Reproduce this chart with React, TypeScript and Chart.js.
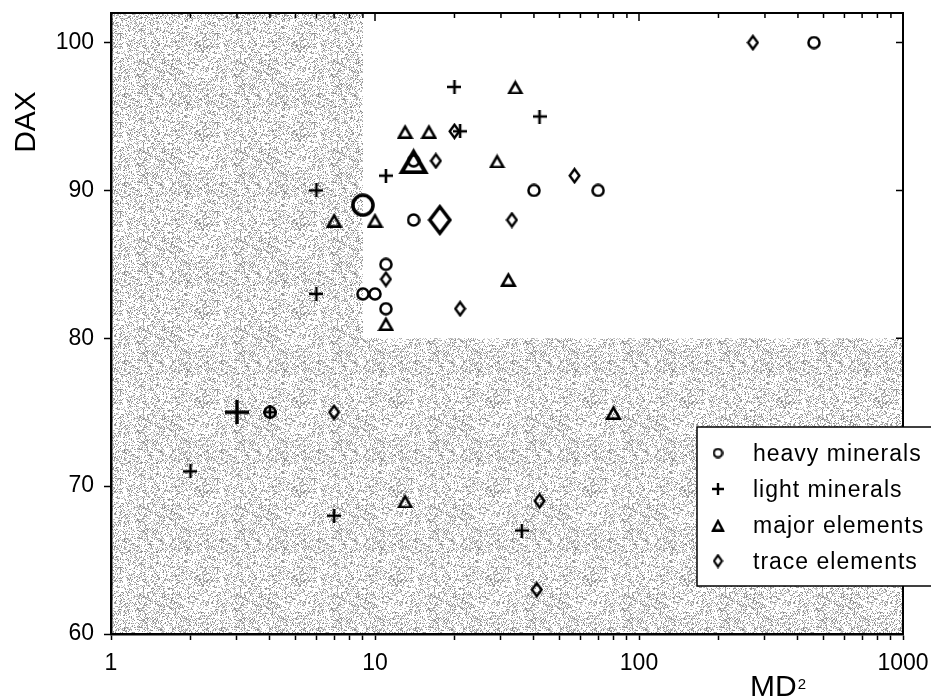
import React, { useEffect, useRef } from 'react';
import { Chart, registerables } from 'chart.js';

Chart.register(...registerables);

// ---------- data ----------
const SERIES_NAMES = ['heavy minerals', 'light minerals', 'major elements', 'trace elements'];

const heavyX = [460, 14, 40, 70, 14, 11, 9, 10, 11, 4];
const heavyY = [100, 92, 90, 90, 88, 85, 83, 83, 82, 75];
const heavyCentroid = [9, 89];

const lightX = [20, 42, 21, 11, 6, 6, 4, 2, 7, 36];
const lightY = [97, 95, 94, 91, 90, 83, 75, 71, 68, 67];
const lightCentroid = [3, 75];

const majorX = [34, 13, 16, 29, 7, 10, 32, 11, 80, 13];
const majorY = [97, 94, 94, 92, 88, 88, 84, 81, 75, 69];
const majorCentroid = [14, 92];

const traceX = [270, 20, 17, 57, 33, 11, 21, 7, 42, 41];
const traceY = [100, 94, 92, 91, 88, 84, 82, 75, 69, 63];
const traceCentroid = [17.6, 88];

const X_MIN = 1;
const X_MAX = 1000;
const Y_MIN = 60;
const Y_MAX = 102;
const X_LABELS = [1, 10, 100, 1000];
const Y_TICKS = [60, 70, 80, 90, 100];
const CLEAR_X_FROM = 9;
const CLEAR_Y_FROM = 80;

const FONT = '"Liberation Sans", Arial, Helvetica, sans-serif';

// ---------- marker drawing ----------
type Shape = 'circle' | 'plus' | 'triangle' | 'diamond';

function makeMarker(shape: Shape, w: number, h: number, lw: number): HTMLCanvasElement {
  const c = document.createElement('canvas');
  c.width = w;
  c.height = h;
  const g = c.getContext('2d')!;
  g.strokeStyle = '#000';
  g.lineWidth = lw;
  g.lineJoin = 'miter';
  const cx = w / 2;
  const cy = h / 2;
  g.beginPath();
  if (shape === 'circle') {
    g.arc(cx, cy, (Math.min(w, h) - lw) / 2 - 0.2, 0, Math.PI * 2);
  } else if (shape === 'plus') {
    g.moveTo(cx, 0);
    g.lineTo(cx, h);
    g.moveTo(0, cy);
    g.lineTo(w, cy);
  } else if (shape === 'triangle') {
    g.moveTo(cx, lw * 1.1);
    g.lineTo(w - lw * 0.9, h - lw / 2);
    g.lineTo(lw * 0.9, h - lw / 2);
    g.closePath();
  } else {
    g.moveTo(cx, lw * 0.8);
    g.lineTo(w - lw * 0.7, cy);
    g.lineTo(cx, h - lw * 0.8);
    g.lineTo(lw * 0.7, cy);
    g.closePath();
  }
  g.stroke();
  return c;
}

function makeStipple(): HTMLCanvasElement {
  const W = 97;
  const H = 89;
  const c = document.createElement('canvas');
  c.width = W;
  c.height = H;
  const g = c.getContext('2d')!;
  const img = g.createImageData(W, H);
  let s = 987654321;
  const next = () => {
    s = (Math.imul(s, 1103515245) + 12345) >>> 0;
    return (s >>> 8) / 16777216;
  };
  for (let i = 0; i < W * H; i++) {
    let v = 255;
    if (next() < 0.36) v = 130 + Math.floor(next() * 80);
    img.data[i * 4] = v;
    img.data[i * 4 + 1] = v;
    img.data[i * 4 + 2] = v;
    img.data[i * 4 + 3] = 255;
  }
  g.putImageData(img, 0, 0);
  return c;
}

export default function App() {
  const ref = useRef<HTMLCanvasElement | null>(null);

  useEffect(() => {
    if (!ref.current) return;

    const small = {
      circle: makeMarker('circle', 14, 14, 2.5),
      plus: makeMarker('plus', 14, 14, 2.6),
      triangle: makeMarker('triangle', 17, 15, 2.6),
      diamond: makeMarker('diamond', 13, 17, 2.4),
    };
    const big = {
      circle: makeMarker('circle', 24, 24, 3.5),
      plus: makeMarker('plus', 24, 24, 3.4),
      triangle: makeMarker('triangle', 31, 27, 4),
      diamond: makeMarker('diamond', 25, 32, 3.5),
    };
    const leg = {
      circle: makeMarker('circle', 11, 11, 2.2),
      plus: makeMarker('plus', 12, 12, 2.4),
      triangle: makeMarker('triangle', 14, 13, 2.4),
      diamond: makeMarker('diamond', 11, 15, 2.2),
    };
    const stipple = makeStipple();

    const pts = (xs: number[], ys: number[]) => xs.map((x, i) => ({ x, y: ys[i] }));
    const mk = (label: string, data: { x: number; y: number }[], style: HTMLCanvasElement) => ({
      label,
      data,
      pointStyle: style,
      pointRadius: 6,
      pointHoverRadius: 6,
      borderColor: '#000',
      backgroundColor: '#000',
      showLine: false,
    });

    const datasets = [
      mk(SERIES_NAMES[0], pts(heavyX, heavyY), small.circle),
      mk(SERIES_NAMES[1], pts(lightX, lightY), small.plus),
      mk(SERIES_NAMES[2], pts(majorX, majorY), small.triangle),
      mk(SERIES_NAMES[3], pts(traceX, traceY), small.diamond),
      mk(SERIES_NAMES[0] + ' centroid', [{ x: heavyCentroid[0], y: heavyCentroid[1] }], big.circle),
      mk(SERIES_NAMES[1] + ' centroid', [{ x: lightCentroid[0], y: lightCentroid[1] }], big.plus),
      mk(SERIES_NAMES[2] + ' centroid', [{ x: majorCentroid[0], y: majorCentroid[1] }], big.triangle),
      mk(SERIES_NAMES[3] + ' centroid', [{ x: traceCentroid[0], y: traceCentroid[1] }], big.diamond),
    ];

    const legendMarkers = [leg.circle, leg.plus, leg.triangle, leg.diamond];

    const decor = {
      id: 'decor',
      beforeDraw(chart: any) {
        const { ctx, chartArea: a, scales } = chart;
        const cx = scales.x.getPixelForValue(CLEAR_X_FROM);
        const cy = scales.y.getPixelForValue(CLEAR_Y_FROM);
        ctx.save();
        ctx.fillStyle = ctx.createPattern(stipple, 'repeat');
        ctx.beginPath();
        ctx.rect(a.left, a.top, a.right - a.left, a.bottom - a.top);
        ctx.rect(cx, a.top, a.right - cx, cy - a.top);
        ctx.fill('evenodd');
        ctx.restore();
      },
      afterDraw(chart: any) {
        const { ctx, chartArea: a, scales } = chart;
        ctx.save();
        // top & right frame
        ctx.strokeStyle = '#000';
        ctx.lineWidth = 2;
        ctx.beginPath();
        ctx.moveTo(a.left, a.top);
        ctx.lineTo(a.right, a.top);
        ctx.lineTo(a.right, a.bottom);
        ctx.stroke();
        // inward ticks on top
        ctx.lineWidth = 1.5;
        ctx.beginPath();
        for (const t of scales.x.ticks) {
          const px = scales.x.getPixelForValue(t.value);
          const major = X_LABELS.includes(t.value);
          ctx.moveTo(px, a.top);
          ctx.lineTo(px, a.top + (major ? 8 : 5));
        }
        // inward ticks on right
        for (const t of scales.y.ticks) {
          const py = scales.y.getPixelForValue(t.value);
          ctx.moveTo(a.right, py);
          ctx.lineTo(a.right - 7, py);
        }
        ctx.stroke();

        // axis titles
        ctx.fillStyle = '#000';
        ctx.font = `30px ${FONT}`;
        ctx.textBaseline = 'alphabetic';
        ctx.save();
        ctx.translate(a.left - 76, a.top + 109);
        ctx.rotate(-Math.PI / 2);
        ctx.textAlign = 'center';
        ctx.fillText('DAX', 0, 0);
        ctx.restore();
        ctx.textAlign = 'left';
        const mx = a.right - 153;
        const my = a.bottom + 62;
        ctx.fillText('MD', mx, my);
        const mdw = ctx.measureText('MD').width;
        ctx.font = `15px ${FONT}`;
        ctx.fillText('2', mx + mdw + 1, my - 7);

        // legend
        const lx = a.right - 206;
        const ly = a.top + 414;
        const lw = 240;
        const lh = 159;
        ctx.fillStyle = '#fff';
        ctx.fillRect(lx, ly, lw, lh);
        ctx.strokeStyle = '#000';
        ctx.lineWidth = 1.5;
        ctx.strokeRect(lx, ly, lw, lh);
        ctx.fillStyle = '#000';
        ctx.font = `23px ${FONT}`;
        try {
          (ctx as any).letterSpacing = '1px';
        } catch (e) {
          /* ignore */
        }
        SERIES_NAMES.forEach((name, i) => {
          const m = legendMarkers[i];
          const my2 = ly + 26 + 36 * i;
          ctx.drawImage(m, lx + 21 - m.width / 2, my2 - m.height / 2);
          ctx.fillText(name, lx + 56, ly + 34 + 36 * i);
        });
        ctx.restore();
      },
    };

    const chart = new Chart(ref.current, {
      type: 'scatter',
      data: { datasets: datasets as any },
      plugins: [decor as any],
      options: {
        responsive: false,
        animation: false,
        devicePixelRatio: 1,
        events: [],
        layout: { padding: { top: 13, right: 28, left: 0, bottom: 0 } },
        plugins: {
          legend: { display: false },
          tooltip: { enabled: false },
          title: { display: false },
        },
        scales: {
          x: {
            type: 'logarithmic',
            position: 'bottom',
            min: X_MIN,
            max: X_MAX,
            afterBuildTicks: (scale: any) => {
              const vals: number[] = [];
              for (let d = X_MIN; d < X_MAX; d *= 10) {
                for (let m = 1; m < 10; m++) vals.push(d * m);
              }
              vals.push(X_MAX);
              scale.ticks = vals.map((v) => ({ value: v }));
            },
            afterFit: (scale: any) => {
              scale.height = 66;
              scale.paddingLeft = 0;
              scale.paddingRight = 0;
              scale.paddingTop = 0;
              scale.paddingBottom = 0;
            },
            border: { display: true, color: '#000', width: 2.5 },
            grid: {
              display: true,
              drawOnChartArea: false,
              drawTicks: true,
              tickLength: 6,
              tickColor: '#000',
              tickWidth: 1.5,
            },
            ticks: {
              autoSkip: false,
              maxRotation: 0,
              minRotation: 0,
              padding: 10,
              color: '#000',
              font: { family: FONT, size: 23 },
              callback: (v: any) => (X_LABELS.includes(Number(v)) ? String(v) : ''),
            },
          },
          y: {
            type: 'linear',
            position: 'left',
            min: Y_MIN,
            max: Y_MAX,
            afterBuildTicks: (scale: any) => {
              scale.ticks = Y_TICKS.map((v) => ({ value: v }));
            },
            afterFit: (scale: any) => {
              scale.width = 111;
              scale.paddingLeft = 0;
              scale.paddingRight = 0;
              scale.paddingTop = 0;
              scale.paddingBottom = 0;
            },
            border: { display: true, color: '#000', width: 2.5 },
            grid: {
              display: true,
              drawOnChartArea: false,
              drawTicks: true,
              tickLength: 7,
              tickColor: '#000',
              tickWidth: 1.5,
            },
            ticks: {
              autoSkip: false,
              padding: 10,
              color: '#000',
              font: { family: FONT, size: 23 },
              callback: (v: any) => String(v),
            },
          },
        },
      },
    });

    return () => chart.destroy();
  }, []);

  return (
    <div style={{ position: 'absolute', left: 0, top: 0, width: 931, height: 700, background: '#fff' }}>
      <canvas ref={ref} width={931} height={700} />
    </div>
  );
}
